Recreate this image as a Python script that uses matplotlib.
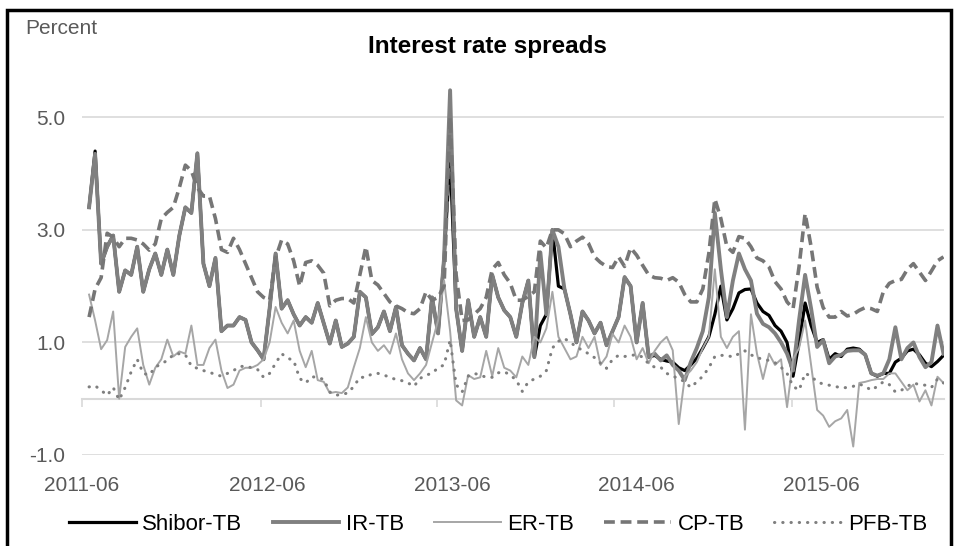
import numpy as np
import pandas as pd
import matplotlib
matplotlib.use('Agg')
import matplotlib.pyplot as plt
import matplotlib.dates as mdates
from matplotlib.patches import Rectangle

plt.rcParams['font.family'] = ['Liberation Sans', 'DejaVu Sans']

# weekly-ish observations, June 2011 - Jan 2016
dates = pd.date_range('2011-06-15', '2016-01-28', periods=143)

shibor_tb = [
    3.4, 4.4, 2.4, 2.7, 2.9, 1.9, 2.28, 2.2, 2.7, 1.9,
    2.3, 2.58, 2.2, 2.65, 2.2, 2.9, 3.4, 3.3, 4.36, 2.4,
    2.0, 2.5, 1.2, 1.3, 1.3, 1.45, 1.4, 1.0, 0.86, 0.7,
    1.6, 2.58, 1.6, 1.75, 1.5, 1.3, 1.45, 1.35, 1.7, 1.34,
    0.98, 1.39, 0.92, 0.98, 1.1, 1.9, 1.8, 1.15, 1.27, 1.55,
    1.2, 1.63, 0.95, 0.8, 0.68, 0.9, 0.7, 1.8, 1.16, 2.5,
    4.3, 1.6, 0.85, 1.75, 1.1, 1.45, 1.1, 2.2, 1.8, 1.57,
    1.45, 1.1, 1.7, 2.1, 0.74, 1.3, 1.5, 3.0, 2.0, 1.95,
    1.5, 1.0, 1.55, 1.39, 1.16, 1.35, 0.95, 1.2, 1.45, 2.16,
    2.0, 1.0, 1.7, 0.74, 0.77, 0.7, 0.67, 0.65, 0.55, 0.5,
    0.6, 0.72, 0.9, 1.1, 1.5, 2.0, 1.4, 1.6, 1.88, 1.94,
    1.95, 1.7, 1.55, 1.48, 1.3, 1.2, 1.0, 0.4, 1.0, 1.7,
    1.3, 1.0, 1.05, 0.7, 0.8, 0.75, 0.88, 0.9, 0.88, 0.78,
    0.45, 0.4, 0.45, 0.45, 0.65, 0.72, 0.85, 0.88, 0.78, 0.63,
    0.57, 0.66, 0.77,
]

ir_tb = [
    3.4, 4.35, 2.4, 2.7, 2.9, 1.9, 2.28, 2.2, 2.7, 1.9,
    2.3, 2.58, 2.2, 2.65, 2.2, 2.9, 3.4, 3.3, 4.36, 2.4,
    2.0, 2.5, 1.2, 1.3, 1.3, 1.45, 1.4, 1.0, 0.86, 0.7,
    1.6, 2.58, 1.6, 1.75, 1.5, 1.3, 1.45, 1.35, 1.7, 1.34,
    0.98, 1.39, 0.92, 0.98, 1.1, 1.9, 1.8, 1.15, 1.27, 1.55,
    1.2, 1.63, 0.95, 0.8, 0.68, 0.9, 0.7, 1.8, 1.16, 2.5,
    5.48, 1.6, 0.85, 1.75, 1.1, 1.45, 1.1, 2.2, 1.8, 1.57,
    1.45, 1.1, 1.7, 2.1, 0.74, 2.6, 1.5, 3.0, 2.7, 1.95,
    1.5, 1.0, 1.55, 1.39, 1.16, 1.35, 0.95, 1.2, 1.45, 2.16,
    2.0, 1.0, 1.7, 0.75, 0.8, 0.68, 0.77, 0.6, 0.5, 0.33,
    0.65, 0.9, 1.2, 1.8, 3.3, 2.3, 1.45, 2.1, 2.58, 2.3,
    2.1, 1.51, 1.33, 1.27, 1.16, 1.0, 0.8, 0.5, 1.4, 2.2,
    1.6, 0.92, 1.04, 0.63, 0.75, 0.78, 0.85, 0.86, 0.86, 0.78,
    0.45, 0.41, 0.45, 0.7, 1.27, 0.7, 0.9, 1.0, 0.74, 0.56,
    0.65, 1.3, 0.8,
]

er_tb = [
    1.85, 1.39, 0.88, 1.04, 1.55, 0.0, 0.92, 1.1, 1.25, 0.6,
    0.25, 0.55, 0.7, 1.05, 0.75, 0.84, 0.8, 1.3, 0.6, 0.6,
    0.9, 1.05, 0.5, 0.19, 0.25, 0.5, 0.55, 0.55, 0.6, 0.7,
    1.0, 1.63, 1.35, 1.16, 1.39, 0.85, 0.56, 0.85, 0.33, 0.3,
    0.1, 0.12, 0.1, 0.2, 0.56, 0.9, 1.45, 1.0, 0.85, 0.95,
    0.8, 1.16, 0.7, 0.45, 0.33, 0.45, 0.6, 1.0, 1.39, 2.1,
    1.2, -0.03, -0.12, 0.42, 0.35, 0.38, 0.85, 0.4, 0.9, 0.55,
    0.5, 0.38, 0.75, 0.6, 1.1, 1.0, 1.25, 1.9, 1.1, 0.9,
    0.7, 0.75, 1.1, 0.9, 1.1, 0.6, 0.75, 1.15, 1.0, 1.3,
    1.1, 0.7, 0.9, 0.63, 0.85, 1.0, 1.1, 0.86, -0.45, 0.39,
    0.5, 0.65, 0.9, 1.1, 2.3, 1.1, 0.9, 1.1, 1.2, -0.55,
    1.5, 0.8, 0.35, 0.8, 0.6, 0.7, -0.15, 0.7, 0.9, 1.39,
    0.6, -0.2, -0.3, -0.5, -0.4, -0.35, -0.2, -0.85, 0.28, 0.3,
    0.33, 0.35, 0.35, 0.45, 0.45, 0.3, 0.15, 0.25, -0.05, 0.15,
    -0.12, 0.39, 0.28,
]

cp_tb = [
    1.45, 1.95, 2.15, 2.94, 2.87, 2.7, 2.85, 2.85, 2.82, 2.75,
    2.64, 2.75, 3.2, 3.31, 3.4, 3.75, 4.15, 4.05, 3.75, 3.6,
    3.6, 3.2, 2.65, 2.6, 2.85, 2.65, 2.4, 2.15, 1.9, 1.8,
    1.75, 2.5, 2.82, 2.75, 2.45, 2.0, 2.42, 2.45, 2.37, 2.23,
    1.65, 1.75, 1.78, 1.78, 1.7, 2.2, 2.7, 2.1, 2.02, 1.87,
    1.72, 1.65, 1.6, 1.53, 1.51, 1.6, 1.9, 1.75, 1.8, 2.0,
    5.0, 2.2, 1.39, 1.4, 1.5, 1.6, 1.8, 2.3, 2.42, 2.2,
    2.05, 1.75, 1.75, 1.82, 1.9, 2.8, 2.68, 3.0, 3.0, 2.93,
    2.7, 2.8, 2.87, 2.76, 2.52, 2.42, 2.35, 2.33, 2.52, 2.35,
    2.68, 2.55, 2.37, 2.2, 2.15, 2.14, 2.1, 2.15, 2.07, 1.85,
    1.72, 1.72, 1.95, 2.58, 3.55, 3.2, 2.7, 2.6, 2.88, 2.85,
    2.7, 2.5, 2.45, 2.34, 2.08, 1.95, 1.72, 1.6, 2.35, 3.29,
    2.7, 1.98, 1.62, 1.45, 1.45, 1.55, 1.47, 1.5, 1.57, 1.62,
    1.6, 1.55, 1.9, 2.05, 2.1, 2.12, 2.3, 2.4, 2.25, 2.1,
    2.27, 2.45, 2.52,
]

pfb_tb = [
    0.21, 0.23, 0.15, 0.06, 0.2, -0.02, 0.2, 0.48, 0.7, 0.45,
    0.42, 0.56, 0.62, 0.68, 0.78, 0.8, 0.78, 0.58, 0.54, 0.5,
    0.47, 0.43, 0.4, 0.45, 0.5, 0.57, 0.58, 0.55, 0.52, 0.38,
    0.45, 0.63, 0.8, 0.72, 0.68, 0.36, 0.28, 0.39, 0.38, 0.34,
    0.12, 0.06, 0.08, 0.1, 0.22, 0.38, 0.38, 0.44, 0.45, 0.42,
    0.38, 0.34, 0.32, 0.28, 0.22, 0.36, 0.42, 0.45, 0.55, 0.6,
    1.04, 0.25, 0.12, 0.4, 0.45, 0.42, 0.38, 0.38, 0.46, 0.48,
    0.42, 0.33, 0.13, 0.3, 0.35, 0.4, 0.5, 0.9, 1.02, 1.07,
    1.0, 0.92, 0.86, 0.8, 0.73, 0.63, 0.54, 0.7, 0.77, 0.75,
    0.77, 0.78, 0.74, 0.62, 0.56, 0.56, 0.45, 0.4, 0.36, 0.3,
    0.2, 0.3, 0.4, 0.55, 0.75, 0.77, 0.77, 0.74, 0.8, 0.85,
    0.78, 0.73, 0.7, 0.68, 0.64, 0.56, 0.45, 0.22, 0.15, 0.45,
    0.4, 0.3, 0.26, 0.24, 0.22, 0.19, 0.2, 0.22, 0.26, 0.22,
    0.15, 0.22, 0.3, 0.25, 0.12, 0.15, 0.22, 0.28, 0.25, 0.24,
    0.2, 0.35, 0.28,
]

label_dates = pd.to_datetime(['2011-06-01', '2012-06-01', '2013-06-01', '2014-06-01', '2015-06-01'])
# excel puts the tick marks every 50 weeks, not under the labels
mark_dates = pd.to_datetime(['2011-06-01', '2012-05-20', '2013-05-02', '2014-04-18', '2015-04-03'])
y_ticks = [-1.0, 1.0, 3.0, 5.0]

txt = '#595959'
grid = '#d9d9d9'

fig = plt.figure(figsize=(9.55, 5.46), dpi=100)
ax = fig.add_axes([82/955, 1 - 455/546, (944 - 82)/955, (455 - 61)/546])

ax.plot(dates, shibor_tb, color='black', lw=2.3, label='Shibor-TB', zorder=3)
ax.plot(dates, ir_tb, color='#808080', lw=2.8, label='IR-TB', zorder=4)
ax.plot(dates, er_tb, color='#a6a6a6', lw=1.4, label='ER-TB', zorder=5)
ax.plot(dates, cp_tb, color='#767676', lw=2.6, ls=(0, (3, 1.6)), label='CP-TB', zorder=6)
ax.plot(dates, pfb_tb, color='#7f7f7f', lw=2.2, ls=(0, (0.1, 2.6)),
        dash_capstyle='round', label='PFB-TB', zorder=7)

ax.set_ylim(-1, 6)
ax.set_xlim(pd.Timestamp('2011-06-01'), pd.Timestamp('2016-01-29'))
ax.set_yticks(y_ticks)
ax.yaxis.set_major_formatter(matplotlib.ticker.FormatStrFormatter('%.1f'))
ax.set_xticks(label_dates)
ax.xaxis.set_major_formatter(mdates.DateFormatter('%Y-%m'))
ax.tick_params(axis='both', length=0, labelsize=15, labelcolor=txt)
ax.tick_params(axis='x', pad=15)
ax.tick_params(axis='y', pad=12)
ax.grid(axis='y', color=grid, lw=1.2)
ax.set_axisbelow(True)
for s in ax.spines.values():
    s.set_visible(False)

# zero line with the tick marks
sec = ax.secondary_xaxis(1 / 7)
sec.set_xticks(mark_dates)
sec.set_xticklabels([])
sec.tick_params(length=6, width=1.2, color=grid, direction='out')
sec.spines['bottom'].set_color(grid)
sec.spines['bottom'].set_linewidth(1.5)

fig.text(25/955, 1 - 28/546, 'Percent', fontsize=15, color=txt, ha='left', va='center')
fig.text(487/955, 1 - 47/546, 'Interest rate spreads', fontsize=17.5, fontweight='bold',
         ha='center', va='center')

fig.legend(loc='center', bbox_to_anchor=(498/955, 1 - 524/546), ncol=5, frameon=False,
           fontsize=16, handlelength=3.0, handletextpad=0.3, columnspacing=1.35,
           labelcolor='black')

fig.patches.append(Rectangle((7/955, -0.1), 944/955, 1 - 9.5/546 + 0.1,
                             transform=fig.transFigure, fill=False, lw=2.5, ec='black'))

fig.savefig('out.png', dpi=100)
